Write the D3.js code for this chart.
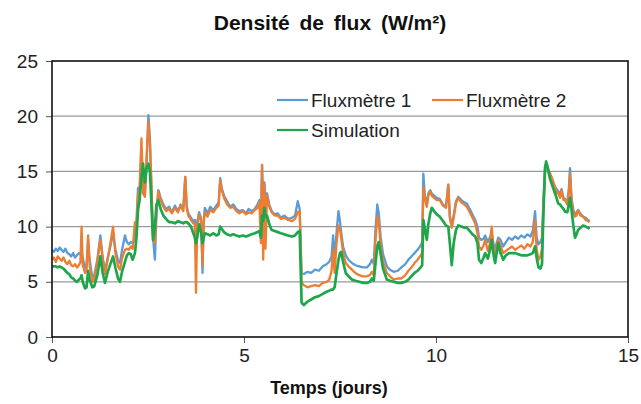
<!DOCTYPE html>
<html><head><meta charset="utf-8">
<script src="https://cdn.jsdelivr.net/npm/d3@7"></script>
<style>
html,body{margin:0;padding:0;background:#fff;}
svg{display:block;font-family:"Liberation Sans",Arial,sans-serif;}
</style></head>
<body><svg id="c" width="641" height="404"></svg>
<script>
const days = [0.00,0.05,0.10,0.15,0.20,0.25,0.30,0.35,0.40,0.45,0.50,0.55,0.60,0.65,0.70,0.74,0.77,0.80,0.86,0.90,0.94,0.98,1.05,1.10,1.18,1.26,1.32,1.38,1.45,1.52,1.59,1.65,1.72,1.77,1.83,1.90,1.95,2.00,2.05,2.10,2.16,2.20,2.24,2.28,2.33,2.37,2.42,2.46,2.51,2.55,2.59,2.63,2.68,2.72,2.77,2.83,2.90,2.97,3.05,3.12,3.20,3.28,3.35,3.42,3.47,3.51,3.55,3.62,3.68,3.72,3.75,3.78,3.83,3.88,3.92,3.95,3.98,4.05,4.12,4.20,4.28,4.34,4.38,4.42,4.48,4.56,4.64,4.72,4.80,4.88,4.97,5.05,5.12,5.20,5.28,5.35,5.40,5.44,5.47,5.50,5.53,5.56,5.60,5.66,5.72,5.80,5.88,5.96,6.05,6.15,6.25,6.33,6.40,6.45,6.50,6.56,6.65,6.75,6.85,6.95,7.05,7.15,7.22,7.28,7.32,7.36,7.41,7.46,7.50,7.53,7.58,7.65,7.72,7.81,7.90,8.00,8.10,8.20,8.28,8.33,8.38,8.42,8.47,8.51,8.56,8.62,8.72,8.80,8.90,9.00,9.10,9.20,9.28,9.36,9.44,9.52,9.60,9.64,9.67,9.71,9.76,9.80,9.85,9.89,9.95,10.02,10.10,10.18,10.26,10.32,10.36,10.41,10.46,10.52,10.58,10.66,10.74,10.80,10.88,10.95,11.02,11.08,11.12,11.18,11.24,11.28,11.35,11.40,11.45,11.50,11.54,11.62,11.68,11.75,11.82,11.90,11.98,12.06,12.14,12.22,12.30,12.38,12.46,12.52,12.58,12.62,12.67,12.72,12.76,12.80,12.84,12.87,12.92,12.97,13.01,13.08,13.14,13.18,13.23,13.27,13.32,13.36,13.42,13.46,13.49,13.53,13.58,13.62,13.66,13.70,13.76,13.83,13.90,13.96,14.00];

const fluxmetre1 = [7.9,7.7,8.0,7.8,8.1,7.9,7.7,8.0,7.6,7.5,7.3,7.6,7.2,7.4,7.6,7.5,7.7,7.2,6.2,6.5,8.8,7.0,5.4,5.6,7.0,9.2,7.2,6.0,7.2,8.2,9.4,8.0,6.9,6.7,8.0,9.2,8.6,8.4,8.6,8.5,8.8,10.5,13.5,13.0,17.0,13.5,13.0,15.5,20.1,18.0,13.0,9.0,7.0,11.0,13.3,12.6,12.0,11.6,11.8,11.3,11.9,11.4,12.0,11.7,14.5,11.8,11.2,10.8,10.5,10.6,10.0,10.4,11.3,10.8,5.8,10.5,11.7,11.2,11.8,11.5,11.9,12.2,14.4,13.5,12.8,12.3,11.8,12.0,11.6,11.4,11.5,11.2,11.6,11.4,11.6,12.0,12.4,11.2,15.6,12.0,14.0,12.5,13.0,12.0,11.4,11.1,11.2,10.8,11.0,10.7,10.8,11.0,12.3,11.6,5.8,5.7,5.9,5.8,6.1,6.0,6.4,6.6,6.8,7.3,9.2,7.0,9.5,11.4,10.5,9.5,8.2,7.4,7.0,6.7,6.5,6.4,6.3,6.3,6.6,7.0,6.6,9.5,12.0,11.2,9.0,7.5,6.4,6.1,5.9,6.0,6.3,6.6,7.0,7.3,7.6,7.9,8.3,8.6,14.8,12.8,12.0,13.0,13.3,13.0,12.8,12.6,12.5,12.0,11.8,13.8,11.0,10.0,11.0,12.3,12.7,12.4,12.2,12.1,11.6,11.1,10.6,10.0,9.0,8.8,8.9,9.2,8.6,9.0,9.4,8.4,8.0,9.0,8.8,8.2,8.6,9.0,8.8,9.1,8.9,9.2,9.0,9.3,9.1,9.6,11.4,9.0,8.4,8.6,9.0,12.5,15.2,15.7,15.0,14.6,14.3,13.7,13.4,13.2,13.0,13.4,12.6,12.5,12.2,13.5,15.3,12.5,11.5,11.0,11.3,11.5,11.2,10.9,10.8,10.6,10.5];

const fluxmetre2 = [7.0,7.2,6.8,7.3,7.1,6.9,7.2,6.8,6.6,6.9,6.5,6.4,6.6,6.3,6.5,6.8,10.0,6.5,5.8,6.0,9.2,6.5,5.0,5.2,6.8,8.8,7.0,5.7,7.0,8.5,10.0,7.6,6.4,6.1,7.2,7.9,8.0,7.9,8.2,8.0,10.4,10.0,12.8,13.4,18.0,13.0,12.7,16.0,19.5,17.5,14.0,9.5,8.5,11.5,13.2,12.4,11.8,11.4,11.6,11.2,11.7,11.3,11.9,11.4,14.5,11.6,11.0,10.6,10.3,10.2,4.0,9.8,11.1,10.6,6.5,10.2,11.3,10.9,11.5,11.3,11.7,11.9,14.2,13.3,12.6,12.0,11.7,11.8,11.4,11.2,11.4,11.1,11.3,11.2,11.5,11.7,12.2,8.5,15.6,7.0,13.8,8.0,12.8,11.8,11.3,11.0,11.0,10.7,10.8,10.6,10.5,10.7,11.3,11.4,4.9,4.7,4.5,4.6,4.7,4.6,4.9,5.0,5.2,6.0,7.9,5.8,8.5,10.1,9.8,9.0,7.6,6.7,6.4,6.1,5.8,5.6,5.5,5.5,5.6,5.9,5.6,8.5,10.9,10.5,8.2,6.8,5.8,5.5,5.2,5.3,5.3,5.6,6.0,6.3,6.7,7.0,7.4,7.6,13.6,12.5,11.8,12.8,13.2,12.8,12.6,12.4,12.4,11.9,11.7,13.8,10.8,9.9,10.8,12.1,12.6,12.2,12.0,11.8,11.3,10.8,10.3,9.4,8.2,7.9,8.3,8.8,7.8,8.4,10.0,7.9,7.4,8.8,8.3,7.6,7.8,8.0,8.2,7.9,8.1,8.3,8.0,8.4,8.2,8.6,10.6,8.0,7.0,7.3,8.0,12.0,15.0,15.7,15.2,14.8,14.5,13.8,13.0,13.1,12.6,13.3,12.4,12.4,12.0,13.0,14.8,12.3,11.2,10.9,11.0,11.5,11.0,10.9,10.6,10.5,10.4];

const simulation = [6.4,6.4,6.4,6.3,6.4,6.3,6.2,6.0,5.8,5.7,5.4,5.3,5.1,5.0,5.2,5.3,5.6,5.0,4.4,4.5,6.0,5.2,4.5,4.6,5.6,7.3,5.8,4.9,5.9,6.6,7.3,6.3,5.3,5.0,6.0,6.8,7.4,7.6,7.5,7.0,7.6,9.0,11.5,12.4,14.5,15.7,14.0,15.2,15.7,15.0,12.0,8.8,10.0,12.0,12.4,11.6,11.0,10.7,10.4,10.4,10.3,10.5,10.4,10.3,10.4,10.4,10.3,10.0,9.4,9.0,8.5,9.0,10.2,9.5,8.5,9.0,9.4,9.3,9.2,9.4,9.2,9.3,10.0,9.8,9.5,9.3,9.2,9.3,9.2,9.1,9.2,9.1,9.2,9.3,9.4,9.5,9.6,9.0,11.0,10.5,11.7,10.9,11.0,10.2,9.7,9.6,9.5,9.4,9.3,9.2,9.1,9.2,9.5,9.6,3.1,2.9,3.2,3.4,3.6,3.7,3.9,4.1,4.2,4.3,4.3,4.5,5.8,7.0,7.6,7.7,6.8,5.8,5.5,5.2,5.1,5.0,4.9,4.9,5.0,5.3,5.1,6.5,8.2,8.6,7.5,6.2,5.2,5.1,5.0,4.9,4.9,5.0,5.2,5.5,5.8,6.0,6.3,6.5,10.6,9.8,8.8,10.2,11.2,11.7,11.4,11.1,10.9,10.5,10.1,10.0,8.5,6.5,8.5,9.7,10.1,10.0,9.9,9.9,9.6,9.3,9.1,8.5,7.0,6.7,7.2,7.6,7.1,7.8,8.8,7.4,6.7,8.5,7.6,7.0,7.4,7.6,7.6,7.6,7.5,7.4,7.4,7.4,7.5,7.6,8.2,7.2,6.3,6.2,6.6,11.5,15.4,15.9,15.2,14.3,13.9,13.2,12.6,12.1,12.0,11.8,11.6,11.35,11.3,12.0,12.6,11.5,10.0,9.0,9.3,9.7,9.9,10.1,10.0,9.9,9.8];

const xTicks = [0,5,10,15];
const yTicks = [0,5,10,15,20,25];
const seriesNames = ["Fluxmètre 1","Fluxmètre 2","Simulation"];
const seriesColors = ["#5b9bd5","#ed7d31","#1fa64b"];
const titleText = "Densité de flux (W/m²)";
const xTitle = "Temps (jours)";

const svg = d3.select("#c");
const m = {l:52, r:628, t:61, b:337};
const x = d3.scaleLinear().domain([0,15]).range([m.l,m.r]);
const y = d3.scaleLinear().domain([0,25]).range([m.b,m.t]);

// gridlines
svg.append("g").selectAll("line").data(yTicks.filter(d=>d>0&&d<25)).join("line")
  .attr("x1",m.l).attr("x2",m.r).attr("y1",d=>y(d)).attr("y2",d=>y(d))
  .attr("stroke","#9a9a9a").attr("stroke-width",1.2);

// axes
const yAxis = d3.axisLeft(y).tickValues(yTicks).tickSize(6).tickPadding(8).tickFormat(d3.format("d"));
const xAxis = d3.axisBottom(x).tickValues(xTicks).tickSize(6).tickPadding(6).tickFormat(d3.format("d"));
const gy = svg.append("g").attr("transform",`translate(${m.l},0)`).call(yAxis);
const gx = svg.append("g").attr("transform",`translate(0,${m.b})`).call(xAxis);
[gx,gy].forEach(g=>{
  g.select(".domain").remove();
  g.selectAll(".tick line").attr("stroke","#555").attr("stroke-width",1);
  g.selectAll(".tick text").attr("fill","#222").style("font-size","19px");
});

// lines
const pts = [fluxmetre1,fluxmetre2,simulation];
const line = d3.line().x(d=>x(d[0])).y(d=>y(d[1]));
pts.forEach((vals,i)=>{
  svg.append("path").datum(days.map((t,j)=>[t,vals[j]]))
    .attr("d",line).attr("fill","none").attr("stroke",seriesColors[i])
    .attr("stroke-width", i===2?2.7:2.3).attr("stroke-linejoin","round");
});

// plot border
svg.append("rect").attr("x",m.l).attr("y",m.t).attr("width",m.r-m.l).attr("height",m.b-m.t)
  .attr("fill","none").attr("stroke","#111").attr("stroke-width",1.6);

// legend
const leg = [
  {i:0, x:277, y:100},
  {i:1, x:432, y:100},
  {i:2, x:277, y:130}
];
leg.forEach(o=>{
  svg.append("line").attr("x1",o.x).attr("x2",o.x+31).attr("y1",o.y).attr("y2",o.y)
    .attr("stroke",seriesColors[o.i]).attr("stroke-width",2.2);
  svg.append("text").attr("x",o.x+34).attr("y",o.y+7).text(seriesNames[o.i])
    .attr("fill","#222").style("font-size","19px");
});

// titles
svg.append("text").attr("x",330).attr("y",30).attr("text-anchor","middle")
  .style("font-size","21px").style("font-weight","bold").style("word-spacing","4px")
  .attr("fill","#111").text(titleText);
svg.append("text").attr("x",329).attr("y",394).attr("text-anchor","middle")
  .style("font-size","18px").style("font-weight","bold")
  .attr("fill","#111").text(xTitle);
</script></body></html>
